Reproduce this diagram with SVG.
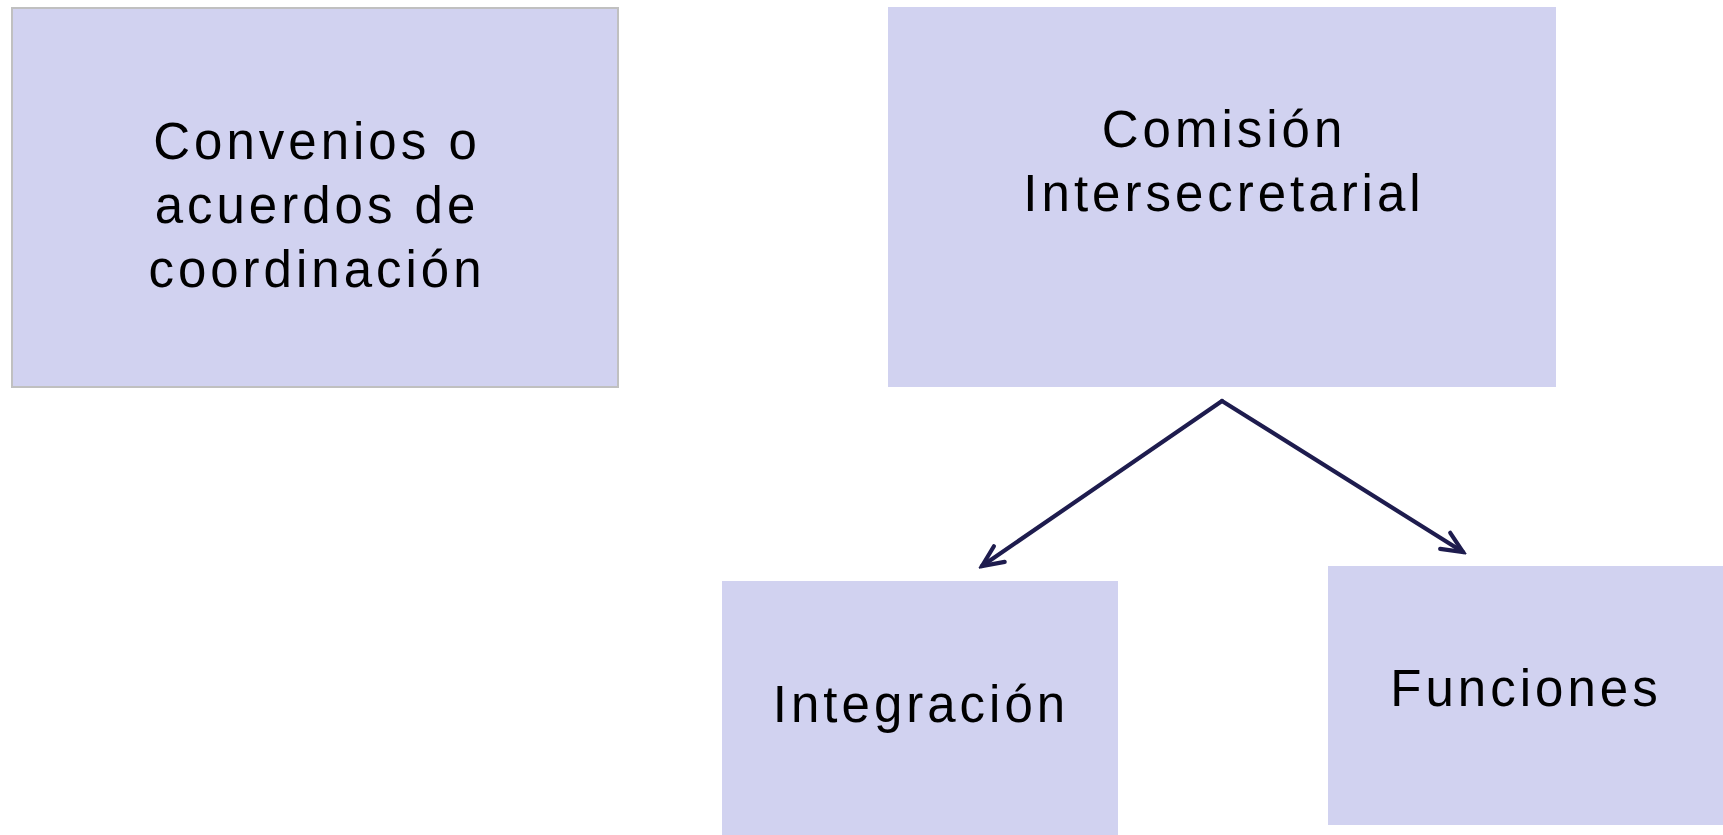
<svg xmlns="http://www.w3.org/2000/svg" width="1723" height="835" viewBox="0 0 1723 835">
<style>
.box{fill:#d1d2f0;}
.lbl{font-family:"Liberation Sans",Arial,sans-serif;font-size:51px;fill:#000;text-anchor:middle;letter-spacing:4px;}
.conn{stroke:#1e1c4e;stroke-width:4.2;fill:none;stroke-linecap:round;}
</style>
<defs>
<marker id="arr" markerUnits="userSpaceOnUse" viewBox="-26 -15 30 30" refX="0" refY="0" markerWidth="30" markerHeight="30" orient="auto">
<path d="M-21,-9.5 L0,0 L-21,9.5" fill="none" stroke="#1e1c4e" stroke-width="4.2" stroke-linecap="round" stroke-linejoin="miter"/>
</marker>
</defs>
<rect width="1723" height="835" fill="#fff"/>
<g id="convenios">
<rect class="box" x="12" y="8" width="606" height="379" stroke="#c0c0c0" stroke-width="2"/>
<text class="lbl" x="317" y="159">Convenios o</text>
<text class="lbl" x="317" y="223">acuerdos de</text>
<text class="lbl" x="317" y="287">coordinación</text>
</g>
<g id="comision">
<rect class="box" x="888" y="7" width="668" height="380"/>
<text class="lbl" x="1224" y="147">Comisión</text>
<text class="lbl" x="1224" y="211">Intersecretarial</text>
</g>
<g id="integracion">
<rect class="box" x="722" y="581" width="396" height="254"/>
<text class="lbl" x="921" y="722">Integración</text>
</g>
<g id="funciones">
<rect class="box" x="1328" y="566" width="395" height="259"/>
<text class="lbl" x="1526" y="706">Funciones</text>
</g>
<g id="connectors">
<line class="conn" x1="1222" y1="401" x2="982" y2="566" marker-end="url(#arr)"/>
<line class="conn" x1="1222" y1="401" x2="1463" y2="552" marker-end="url(#arr)"/>
</g>
</svg>
